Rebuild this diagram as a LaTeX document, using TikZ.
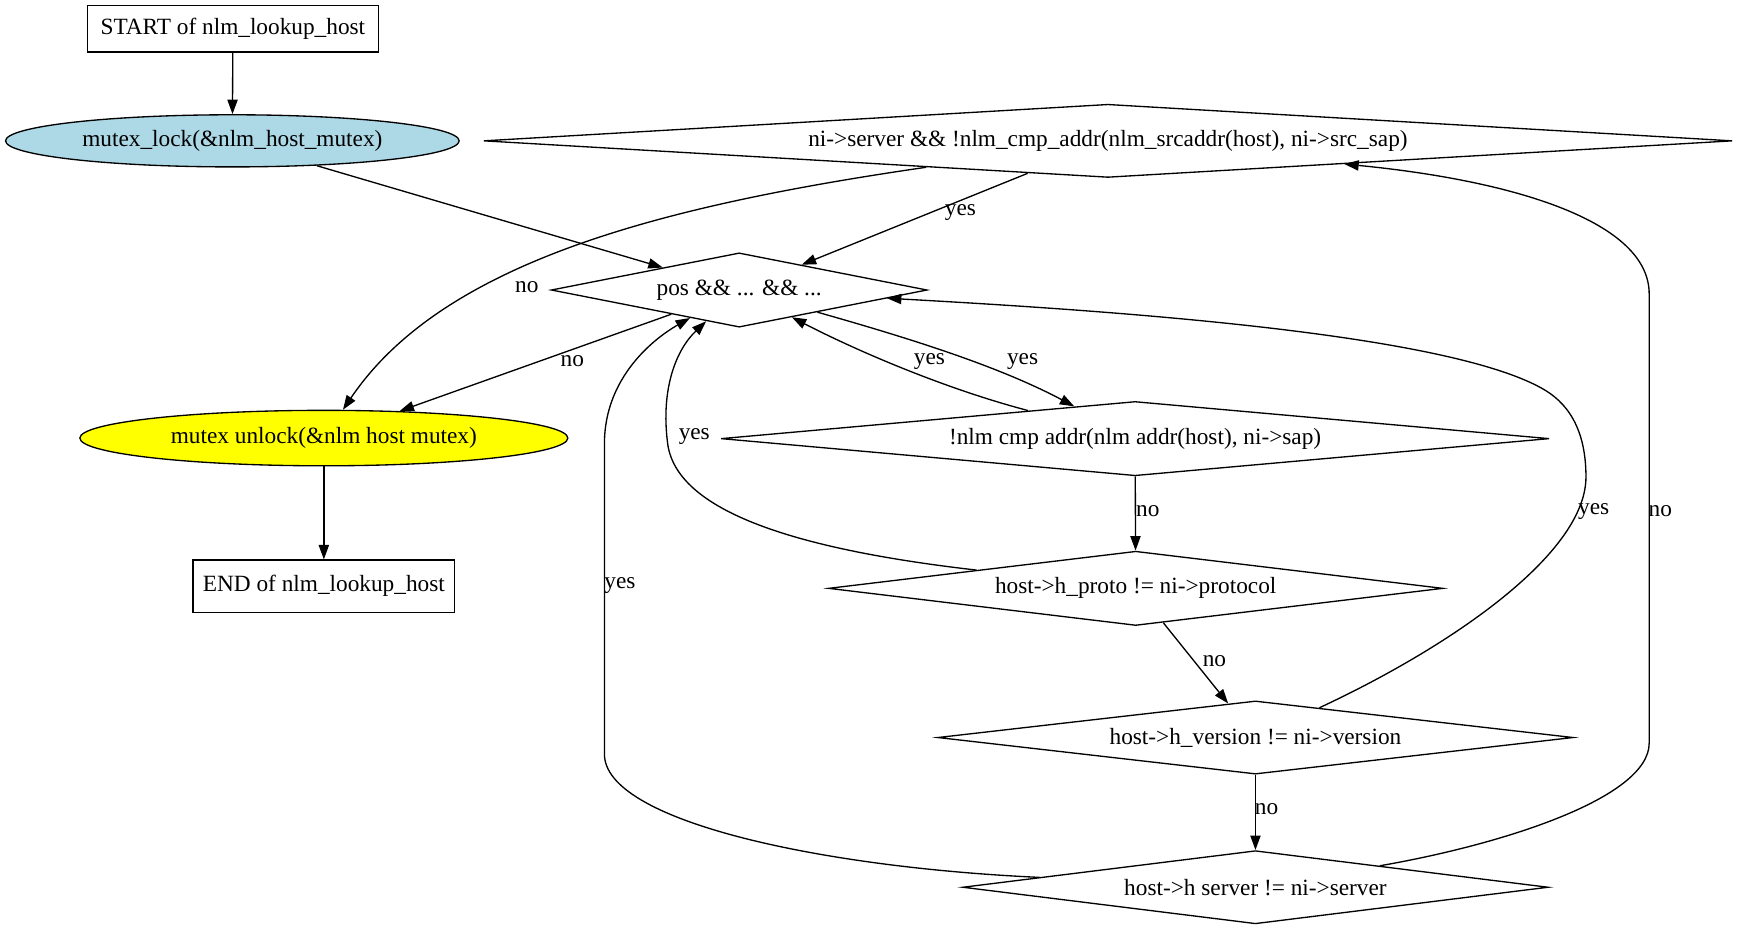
\documentclass[tikz,border=0pt]{standalone}
\usepackage{fontspec}
\setmainfont{Liberation Serif}
\usetikzlibrary{shapes.geometric,arrows.meta}
\definecolor{lockblue}{RGB}{173,216,230}
\definecolor{unlockyellow}{RGB}{255,255,0}
\tikzset{every picture/.style={line width=0.6pt}}
\tikzset{
  box/.style={draw, rectangle, inner sep=0pt},
  blob/.style={draw, ellipse, inner sep=0pt},
  cond/.style={draw, diamond, inner sep=0pt},
  lbl/.style={inner sep=0.75pt},
  every node/.append style={font=\rmfamily\fontsize{10.5}{12}\selectfont},
}

\begin{document}
\begin{tikzpicture}[x=0.5pt,y=0.5pt,yscale=-1,xscale=1,>={Triangle[length=6.5pt,width=4.6pt]}]
	\useasboundingbox (0,0) rectangle (1568,839);

	%Shape: Rectangle [start]
	\node[box, minimum width=131pt, minimum height=21pt] (start) at (210,26) {START of nlm\_lookup\_host};
	%Shape: Ellipse [lock]
	\node[blob, fill=lockblue, minimum width=204.5pt, minimum height=23.5pt] (lock) at (209.5,127) {mutex\_lock(\&nlm\_host\_mutex)};
	%Shape: Diamond [ctop]
	\node[cond, aspect=17, minimum width=563pt, minimum height=33pt] (ctop) at (999,127) {ni->server \&\& !nlm\_cmp\_addr(nlm\_srcaddr(host), ni->src\_sap)};
	%Shape: Diamond [pos]
	\node[cond, aspect=5, minimum width=169.5pt, minimum height=33.5pt] (pos) at (666.5,261.5) {pos \&\& ... \&\& ...};
	%Shape: Ellipse [unlock]
	\node[blob, fill=unlockyellow, minimum width=220pt, minimum height=25pt] (unlock) at (292,395) {mutex unlock(\&nlm host mutex)};
	%Shape: Rectangle [end]
	\node[box, minimum width=118pt, minimum height=23.5pt] (end) at (292,528.5) {END of nlm\_lookup\_host};
	%Shape: Diamond [nlm]
	\node[cond, aspect=11, minimum width=373.5pt, minimum height=33.5pt] (nlm) at (1023.5,395.5) {!nlm cmp addr(nlm addr(host), ni->sap)};
	%Shape: Diamond [proto]
	\node[cond, aspect=8, minimum width=277pt, minimum height=33.5pt] (proto) at (1024,530.5) {host->h\_proto != ni->protocol};
	%Shape: Diamond [version]
	\node[cond, aspect=8.5, minimum width=286.5pt, minimum height=33pt] (version) at (1132,665) {host->h\_version != ni->version};
	%Shape: Diamond [server]
	\node[cond, aspect=8, minimum width=264pt, minimum height=33pt] (server) at (1132,800) {host->h server != ni->server};

	%Straight Lines
	\draw[->] (start) -- (lock);
	\draw[->] (lock) -- (pos);
	\draw[->] (ctop) -- (pos);
	\draw[->] (pos) -- (unlock);
	\draw[->] (unlock) -- (end);
	\draw[->] (nlm) -- (proto);
	\draw[->] (proto) -- (version);
	\draw[->] (version) -- (server);
	%Curve Lines
	\draw[->] (ctop) .. controls (600,185) and (400,235) .. (unlock);
	\draw[->] (pos) .. controls (820,305) and (900,330) .. (nlm);
	\draw[->] (nlm) .. controls (850,350) and (770,315) .. (pos);
	\draw[->] (proto) .. controls (732,497) and (610.5,465) .. (602,400) .. controls (595.5,350) and (610,315) .. (pos);
	\draw[->] (version) .. controls (1306,584) and (1430,500) .. (1430,430) .. controls (1430,385) and (1412,362) .. (1390,350) .. controls (1300,300) and (1000,280) .. (pos);
	\draw[->] (server) .. controls (738,782) and (545,740) .. (545,680) -- (545,400) .. controls (545,340) and (590,305) .. (pos);
	\draw[->] (server) .. controls (1352,762) and (1487,720) .. (1487,670) -- (1487,265) .. controls (1487,200) and (1366,163) .. (ctop);

	% Text Node
	\node[lbl] (lctopyes) at (866,192) {yes};
	% Text Node
	\node[lbl] (lctopno) at (475,259) {no};
	% Text Node
	\node[lbl] (lposno) at (516,326) {no};
	% Text Node
	\node[lbl] (lnlmyes) at (838,326) {yes};
	% Text Node
	\node[lbl] (lposyes) at (922,326) {yes};
	% Text Node
	\node[lbl] (lprotoyes) at (626,394) {yes};
	% Text Node
	\node[lbl] (lnlmno) at (1035,461) {no};
	% Text Node
	\node[lbl] (lversionyes) at (1437,461) {yes};
	% Text Node
	\node[lbl] (lserverno) at (1497,461) {no};
	% Text Node
	\node[lbl] (lserveryes) at (559,528) {yes};
	% Text Node
	\node[lbl] (lprotono) at (1095,596) {no};
	% Text Node
	\node[lbl] (lversionno) at (1142,730) {no};
\end{tikzpicture}
\end{document}
